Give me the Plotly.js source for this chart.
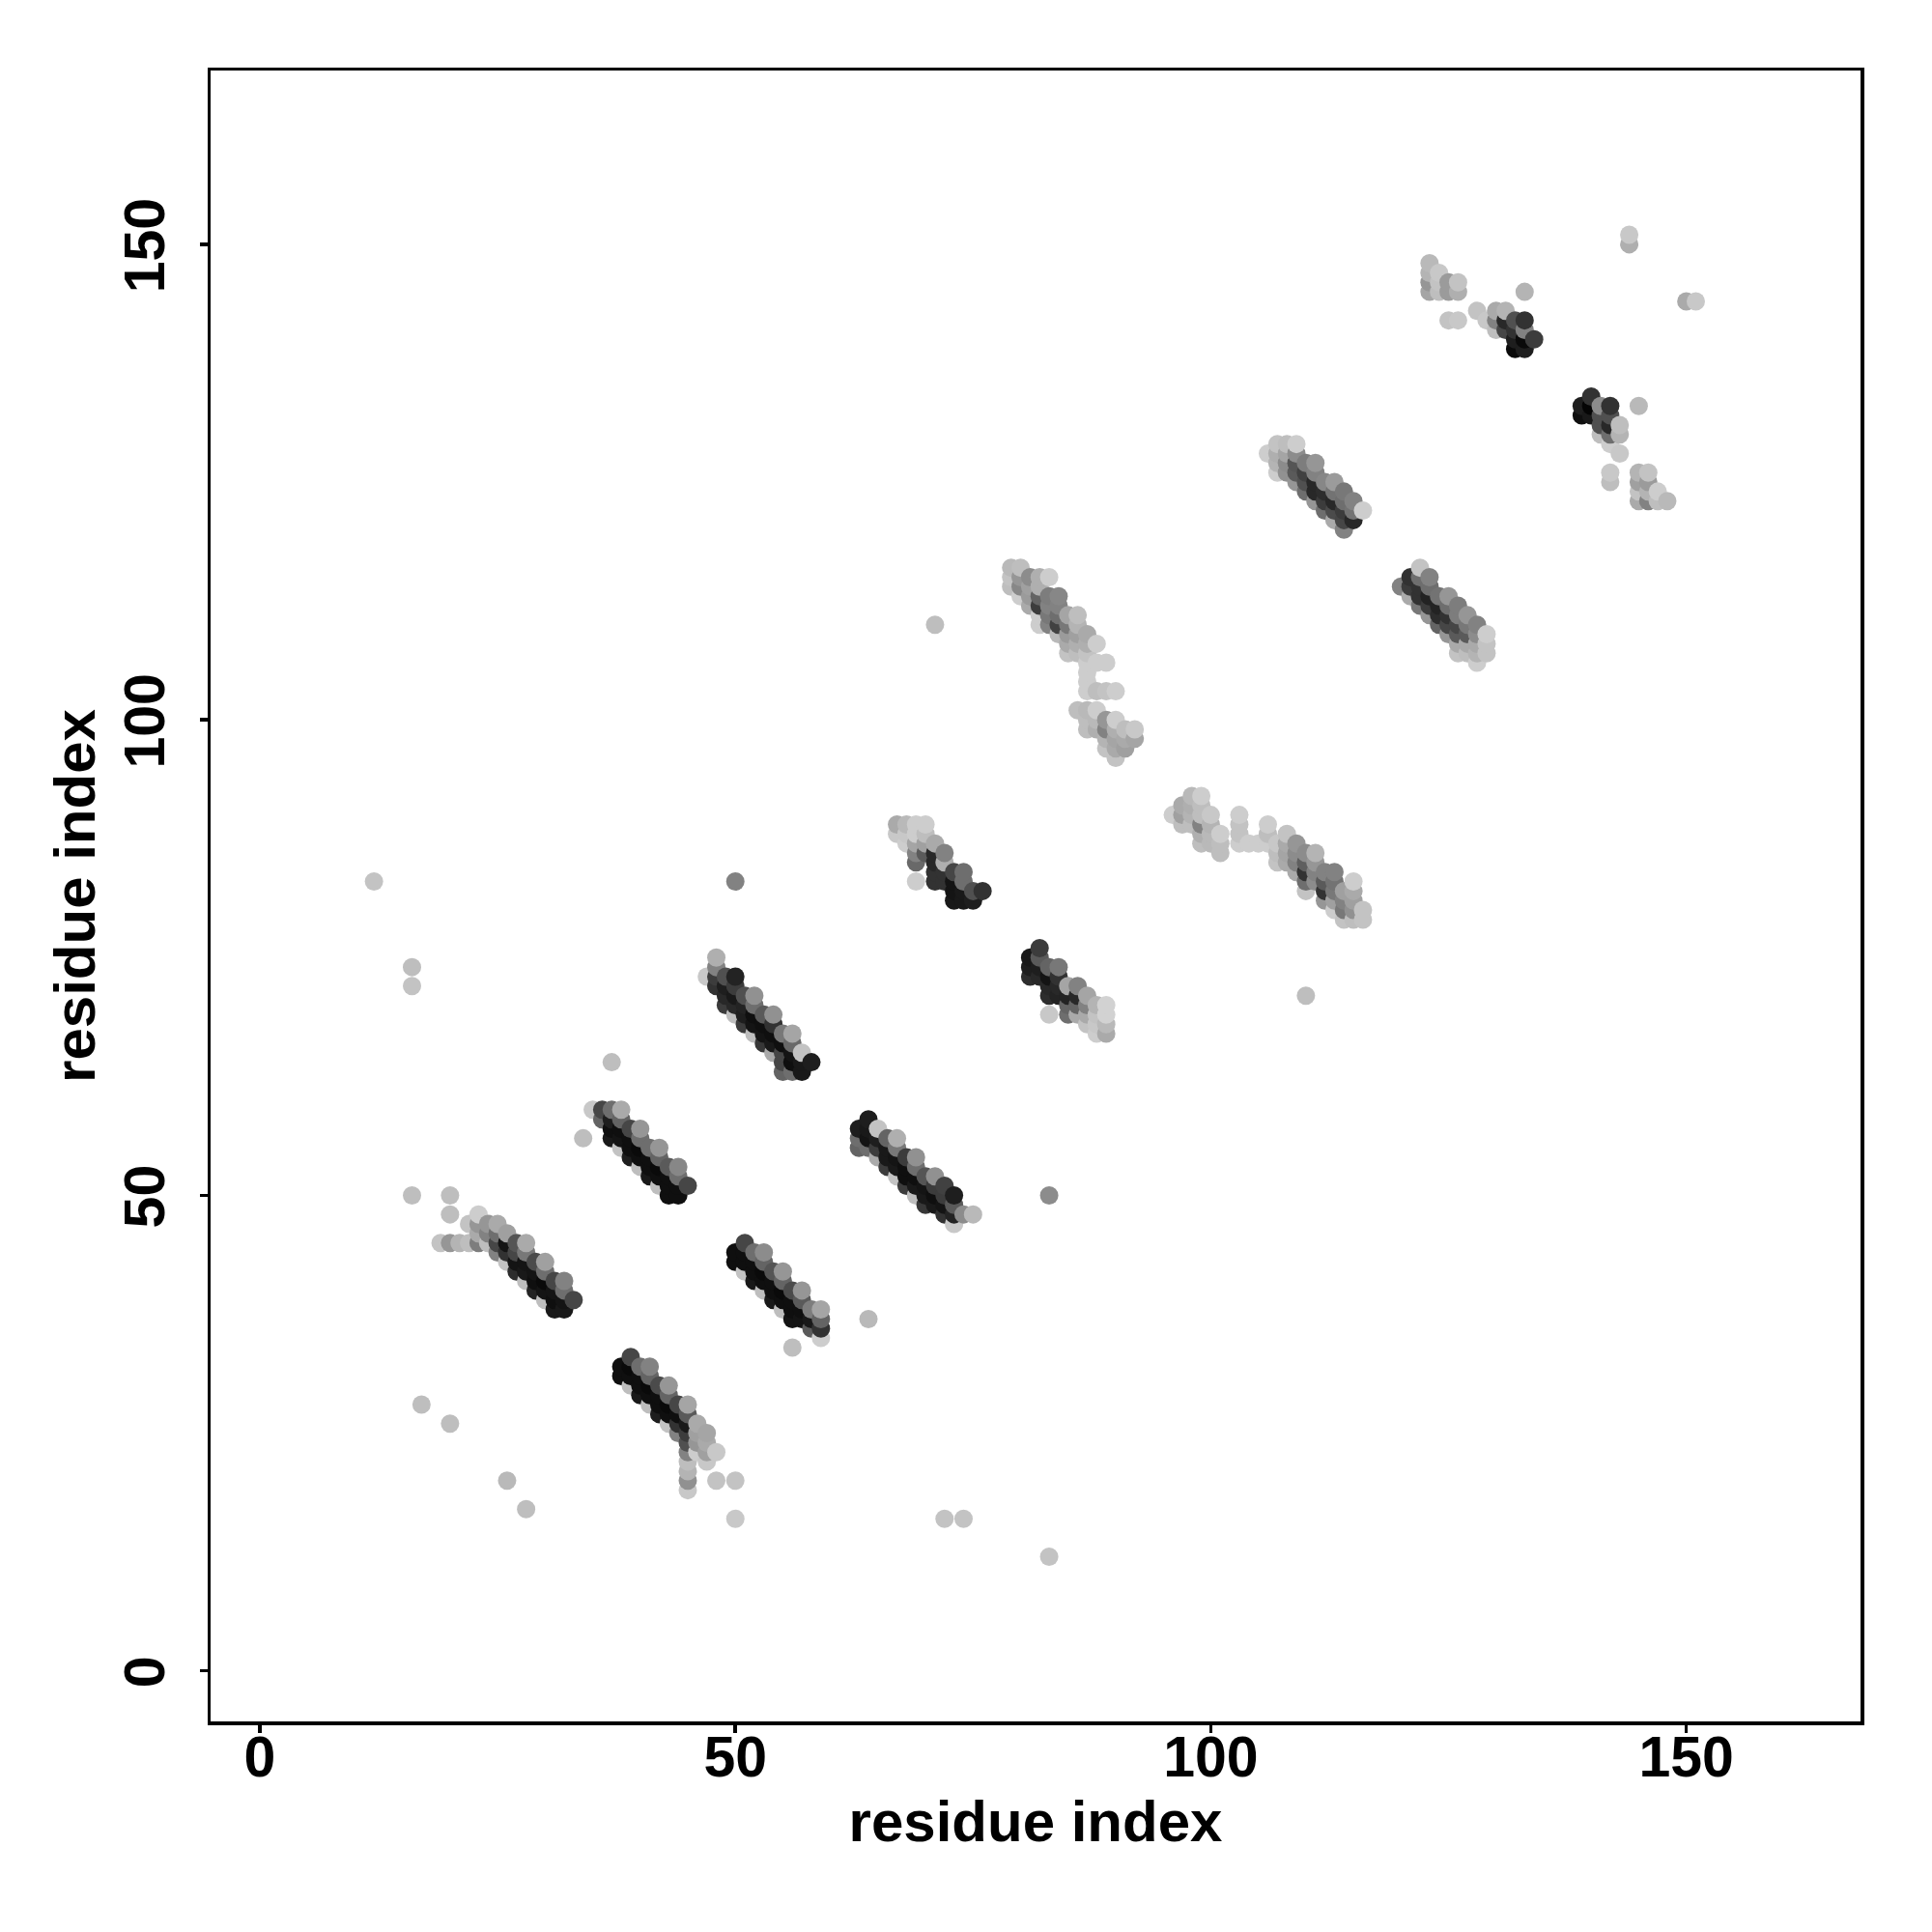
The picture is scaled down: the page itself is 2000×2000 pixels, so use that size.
<!DOCTYPE html>
<html><head><meta charset="utf-8">
<script src="https://cdn.plot.ly/plotly-3.0.1.min.js"></script>
<style>html,body{margin:0;padding:0;background:#fff}</style></head>
<body><div id="chart" style="width:2000px;height:2000px"></div>
<script>
// each entry: [residue x, [residue y, grey, residue y, grey, ...]]
const bandA=[[19,[45,195]],[20,[45,150,48,190,50,190]],[21,[45,180]],[22,[45,190,47,195]],[23,[45,125,46,170,47,150,48,205]],[24,[45,190,46,130,47,150]],[25,[44,130,45,70,46,110,47,170]],[26,[43,195,44,50,45,20,46,160]],[27,[42,45,43,20,44,70,45,85]],[28,[41,190,42,25,43,20,44,120,45,170]],[29,[40,35,41,15,42,20,43,75]],[30,[39,190,40,20,41,10,42,110,43,160]],[31,[38,25,39,15,40,20,41,70]],[32,[38,25,39,20,40,110,41,130]],[33,[39,70]]];
const bandB=[[35,[59,200]],[36,[58,100,59,70]],[37,[56,25,57,15,58,30,59,110,64,190]],[38,[55,195,56,20,57,15,58,100,59,170]],[39,[54,30,55,15,56,15,57,70]],[40,[53,190,54,15,55,10,56,110,57,150]],[41,[52,25,53,15,54,15,55,110]],[42,[51,190,52,15,53,10,54,100,55,150]],[43,[50,15,51,15,52,15,53,90]],[44,[50,15,51,15,52,110,53,135]],[45,[51,70]]];
const bandC=[[38,[31,15,32,15]],[39,[30,190,31,15,32,10,33,70]],[40,[29,25,30,15,31,15,32,110]],[41,[28,190,29,15,30,10,31,100,32,130]],[42,[27,30,28,15,29,15,30,75]],[43,[26,195,27,15,28,10,29,100,30,150]],[44,[25,130,26,50,27,15,28,70]],[45,[19,200,20,145,21,180,22,190,23,130,24,80,25,60,26,25,27,90,28,165]],[46,[23,205,24,150,25,160,26,170]],[47,[22,200,23,160,24,170,25,165]],[48,[20,195,23,200]]];
const bandD=[[50,[43,15,44,15]],[51,[42,195,43,15,44,15,45,70]],[52,[41,25,42,15,43,15,44,110]],[53,[40,190,41,15,42,10,43,100,44,140]],[54,[39,25,40,15,41,15,42,85]],[55,[38,190,39,15,40,10,41,100,42,150]],[56,[34,190,37,20,38,15,39,15,40,75]],[57,[37,20,38,15,39,90,40,150]],[58,[36,90,37,25,38,125]],[59,[35,205,36,50,37,100,38,165]]];
const bandE=[[47,[73,200]],[48,[72,50,73,60,74,130,75,175]],[49,[70,60,71,40,72,30,73,80]],[50,[69,190,70,40,71,25,72,60,73,35,83,130]],[51,[68,60,69,30,70,35,71,80]],[52,[67,190,68,20,69,15,70,110,71,145]],[53,[66,55,67,20,68,15,69,90]],[54,[65,170,66,25,67,15,68,50,69,145]],[55,[63,100,64,70,65,70,66,15,67,120]],[56,[63,110,64,15,65,20,66,105,67,165]],[57,[63,25,64,25,65,195]],[58,[64,30]]];
const bandF=[[63,[55,100,56,110,57,30]],[64,[37,185,55,110,56,20,57,25,58,30]],[65,[54,170,55,60,56,30,57,195]],[66,[53,60,54,25,55,25,56,100]],[67,[52,195,53,25,54,20,55,120,56,175]],[68,[51,60,52,15,53,15,54,60]],[69,[50,190,51,25,52,15,53,110,54,145]],[70,[49,55,50,25,51,20,52,85]],[71,[49,25,50,15,51,60,52,145]],[72,[16,195,48,50,49,20,50,60,51,65]],[73,[47,200,48,35,49,90,50,30]],[74,[16,195,48,140]],[75,[48,185]]];
const bandG=[[67,[88,200,89,170]],[68,[87,205,88,200,89,185]],[69,[83,205,85,105,86,130,87,165,88,205,89,205]],[70,[87,160,86,90,88,190,89,205]],[71,[83,50,84,50,85,40,86,40,87,170,110,190]],[72,[83,50,84,50,85,175,86,130]],[73,[81,25,82,20,83,20,84,70]],[74,[81,25,82,25,83,110,84,110]],[75,[81,30,82,80]],[76,[82,50]]];
const bandH=[[81,[73,45,74,30,75,25]],[82,[73,40,74,30,75,90,76,60]],[83,[12,195,50,140,69,200,71,45,72,40,73,20,74,100]],[84,[71,35,72,40,73,50,74,120]],[85,[69,110,70,100,71,35,72,165]],[86,[69,170,70,100,71,40,72,130]],[87,[68,195,69,170,70,130,71,165]],[88,[67,205,68,200,69,195,70,180]],[89,[67,170,68,185,69,210,70,210]]];
const bandI=[[96,[90,205]],[97,[89,190,90,160,91,170]],[98,[89,190,90,180,91,175,92,185]],[99,[87,190,88,175,89,130,90,190,91,190,92,205]],[100,[87,185,88,185,89,180,90,200]],[101,[86,190,87,190,88,205]],[103,[87,205,88,195,89,195,90,205]],[104,[87,205]],[105,[87,205]],[106,[87,205,88,190,89,205]],[107,[85,195,86,190,87,200]],[108,[85,170,86,165,87,170,88,195]],[109,[84,170,85,130,86,140,87,150]],[110,[71,190,82,195,83,110,84,50,85,95,86,140]],[111,[83,140,84,130,85,150,86,180]],[112,[81,150,82,50,83,90,84,130]],[113,[80,205,81,160,82,120,83,115,84,130]],[114,[79,195,80,120,81,130,82,160]],[115,[79,190,80,145,81,160,82,170,83,205]],[116,[79,195,80,195]]];
const bandJ=[[79,[114,190,115,195,116,185]],[80,[113,205,114,135,115,150,116,190]],[81,[112,170,113,155,114,160,115,140]],[82,[110,205,111,205,112,60,113,100,114,175,115,175]],[83,[110,130,111,120,112,130,113,125,115,205]],[84,[109,185,110,65,111,110,112,130,113,135]],[85,[107,195,108,170,109,155,110,120,111,165]],[86,[101,190,107,190,108,175,109,160,110,180,111,190]],[87,[99,190,100,190,101,185,103,205,104,205,105,205,106,205,107,195,108,175,109,170]],[88,[99,175,100,185,101,205,103,190,106,205,108,205]],[89,[97,195,98,180,99,130,100,150,103,195,106,205]],[90,[96,195,97,170,98,165,99,175,100,205,103,205]],[91,[97,160,98,170,99,190]],[92,[98,165,99,200]]];
const bandK=[[106,[128,205]],[107,[126,205,127,180,128,175,129,195]],[108,[126,145,127,140,128,165,129,190]],[109,[125,150,126,90,127,85,128,140,129,205]],[110,[124,110,125,80,126,65,127,125]],[111,[123,150,124,40,125,40,126,130,127,150]],[112,[122,110,123,60,124,45,125,135]],[113,[121,170,122,75,123,40,124,115,125,155]],[114,[120,130,121,70,122,60,123,110,124,120]],[115,[121,40,122,115,123,130]],[116,[122,205]]];
const bandL=[[120,[114,130]],[121,[113,170,114,60,115,50]],[122,[112,120,113,50,114,50,115,110,116,195]],[123,[111,150,112,60,113,35,114,110,115,130]],[124,[110,100,111,45,112,35,113,115]],[125,[109,150,110,70,111,50,112,110,113,150]],[126,[107,195,108,170,109,90,110,70,111,125,112,125]],[127,[107,190,108,170,109,90,110,120,111,150]],[128,[106,205,107,180,108,170,109,140,110,130]],[129,[107,195,108,195,109,205]]];
const bandM=[[123,[145,165,146,150,147,180,148,185]],[124,[145,190,146,195,147,200]],[125,[142,195,145,155,146,155]],[126,[142,200,145,175,146,195]],[128,[143,195]],[129,[142,200]],[130,[141,190,142,130,143,170]],[131,[141,70,142,40,143,180]],[132,[139,10,140,30,141,50,142,80]],[133,[139,30,140,10,141,130,142,50,145,180]],[134,[140,60]]];
const bandN=[[139,[132,15,133,30]],[140,[132,25,133,5,134,50]],[141,[130,190,131,80,132,80,133,140]],[142,[125,190,126,200,129,205,130,110,131,40,132,80,133,50]],[143,[128,200,130,180,131,190]],[144,[150,175,151,200]],[145,[123,170,124,195,125,160,126,180,133,185]],[146,[123,130,124,180,125,155,126,195]],[147,[123,190,124,205]],[148,[123,185]],[150,[144,170]],[151,[144,200]]];
const isolated=[[12,[83,195]],[16,[50,190,72,195,74,190]],[17,[28,190]],[20,[26,190]],[26,[20,185]],[28,[17,190]],[34,[56,190]],[50,[16,200,20,195]]];

const bands=[bandA,bandB,bandC,bandD,bandE,bandF,bandG,bandH,bandI,bandJ,bandK,bandL,bandM,bandN,isolated];
const tickValues=[0,50,100,150];
const axisLabel="residue index";

const pts=[];
bands.forEach(b=>b.forEach(([x,cells])=>{
  for(let i=0;i<cells.length;i+=2) pts.push([x,cells[i],cells[i+1]]);
}));
pts.sort((a,b)=>a[0]-b[0]||a[1]-b[1]);

const font='"Liberation Sans", Arial, sans-serif';
const axisBase={
  tickvals:tickValues,ticktext:tickValues.map(String),
  ticks:'outside',ticklen:8,tickwidth:3.5,tickcolor:'#000',
  tickfont:{family:font,size:59,color:'#000',weight:'bold'},
  showgrid:false,zeroline:false,showline:true,linecolor:'#000',linewidth:3.5,mirror:true,
  automargin:false
};
Plotly.newPlot('chart',[{
  type:'scatter',mode:'markers',
  x:pts.map(p=>p[0]),y:pts.map(p=>p[1]),
  marker:{size:19,color:pts.map(p=>`rgb(${p[2]},${p[2]},${p[2]})`),line:{width:0},opacity:1},
  hoverinfo:'skip',cliponaxis:true
}],{
  width:2000,height:2000,showlegend:false,
  paper_bgcolor:'#fff',plot_bgcolor:'#fff',
  margin:{l:218,r:73.5,t:73,b:217.75,pad:0},
  xaxis:Object.assign({},axisBase,{range:[-5.18,168.32],tickangle:0,ticklabelstandoff:-25,
    title:{text:axisLabel,font:{family:font,size:60,color:'#000',weight:'bold'},standoff:13}}),
  yaxis:Object.assign({},axisBase,{range:[-5.31,168.27],tickangle:-90,ticklabelstandoff:13,ticklabelshift:10,
    title:{text:axisLabel,font:{family:font,size:60,color:'#000',weight:'bold'},standoff:0}})
},{displayModeBar:false,staticPlot:true});
</script></body></html>
